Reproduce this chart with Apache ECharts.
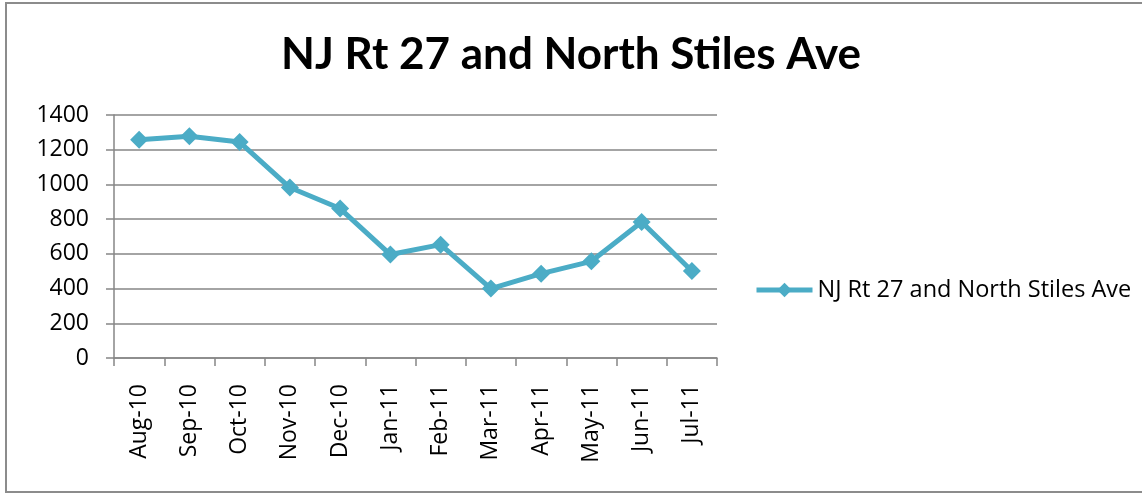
<!DOCTYPE html>
<html>
<head>
    <meta charset="utf-8">
    <title>NJ Rt 27 and North Stiles Ave</title>
    <script src="https://cdn.jsdelivr.net/npm/echarts@6/dist/echarts.min.js"></script>
    <style>
        html, body { margin: 0; padding: 0; background: #fff; }
    </style>
</head>
<body>
    <div id="main" style="width: 1142px;height:494px;"></div>
    <script type="text/javascript">
        var myChart = echarts.init(document.getElementById('main'));

        // data
        var months = ['Aug-10', 'Sep-10', 'Oct-10', 'Nov-10', 'Dec-10', 'Jan-11',
                      'Feb-11', 'Mar-11', 'Apr-11', 'May-11', 'Jun-11', 'Jul-11'];
        var counts = [1258, 1277, 1244, 982, 861, 596, 653, 400, 486, 557, 784, 501];
        var seriesName = 'NJ Rt 27 and North Stiles Ave';

        var font = 'Open Sans';
        var grey = '#868686';
        var blue = '#4bacc6';

        var option = {
            backgroundColor: '#fff',
            animation: false,
            graphic: [{
                type: 'rect',
                shape: { x: 6, y: 3, width: 1150, height: 489 },
                style: { fill: 'none', stroke: '#8c8c8c', lineWidth: 2 }
            }],
            title: {
                text: seriesName,
                left: 'center',
                top: 28,
                textStyle: {
                    color: '#000',
                    fontFamily: 'Lato',
                    fontWeight: 'bold',
                    fontSize: 44
                }
            },
            legend: {
                left: 754,
                top: 278,
                padding: 0,
                itemWidth: 56,
                itemHeight: 18,
                lineStyle: { width: 5, color: blue },
                textStyle: {
                    color: '#000',
                    fontFamily: font,
                    fontSize: 23.5,
                    lineHeight: 22
                },
                data: [seriesName]
            },
            grid: {
                left: 114,
                right: 425,
                top: 115,
                bottom: 136
            },
            xAxis: {
                type: 'category',
                data: months,
                boundaryGap: true,
                axisLine: { lineStyle: { color: grey, width: 1.5 } },
                axisTick: { show: true, length: 8, lineStyle: { color: grey, width: 1.5 } },
                axisLabel: {
                    rotate: 90,
                    margin: 26,
                    color: '#000',
                    fontFamily: font,
                    fontSize: 23
                }
            },
            yAxis: {
                type: 'value',
                min: 0,
                max: 1400,
                interval: 200,
                axisLine: { show: true, lineStyle: { color: grey, width: 1.5 } },
                axisTick: { show: true, length: 8, lineStyle: { color: grey, width: 1.5 } },
                splitLine: { lineStyle: { color: grey, width: 1.5 } },
                axisLabel: {
                    margin: 25,
                    color: '#000',
                    fontFamily: font,
                    fontSize: 23,
                    formatter: function (v) { return String(v); }
                }
            },
            series: [{
                name: seriesName,
                type: 'line',
                data: counts,
                symbol: 'diamond',
                symbolSize: 18,
                itemStyle: { color: blue },
                lineStyle: { color: blue, width: 5 }
            }]
        };

        myChart.setOption(option);
    </script>
</body>
</html>
